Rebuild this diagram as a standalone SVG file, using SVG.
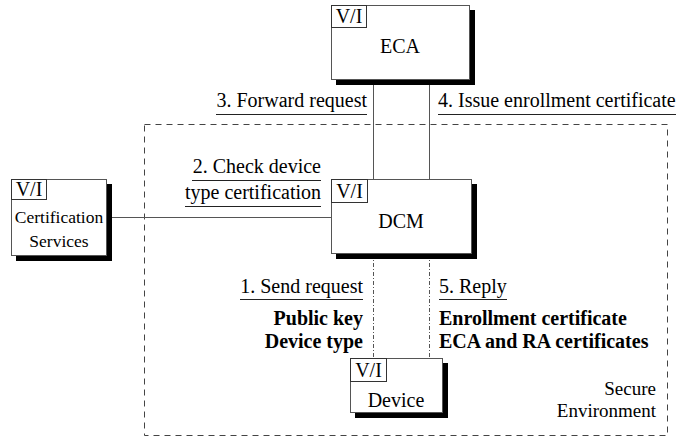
<svg xmlns="http://www.w3.org/2000/svg" width="691" height="438" viewBox="0 0 691 438" font-family="'Liberation Serif', 'DejaVu Serif', serif">
<style>
text{font-family:'Liberation Serif','DejaVu Serif',serif;fill:#000;font-size:20px}
.b{font-weight:bold}
.shadow{fill:#000}
.box{fill:#fff;stroke:#555;stroke-width:1}
.vi{fill:#fff;stroke:#333;stroke-width:1}
.conn{stroke:#555;stroke-width:1;fill:none}
.dd{stroke:#555;stroke-width:1;fill:none;stroke-dasharray:4 2 1 2}
.ul{stroke:#222;stroke-width:1}
.env{fill:none;stroke:#444;stroke-width:1;stroke-dasharray:6 5}
</style>
<rect class="env" x="144.5" y="124.5" width="523" height="311"/>
<g id="connectors">
<line class="conn" x1="373.5" y1="80" x2="373.5" y2="179"/>
<line class="conn" x1="429.5" y1="80" x2="429.5" y2="179"/>
<line class="conn" x1="107" y1="217.5" x2="331" y2="217.5"/>
<line class="dd" x1="373.5" y1="254" x2="373.5" y2="358"/>
<line class="dd" x1="429.5" y1="254" x2="429.5" y2="358"/>
</g>
<g id="labels">
<text x="367" y="107" text-anchor="end">3. Forward request</text>
<line class="ul" x1="216" y1="114.5" x2="367" y2="114.5"/>
<text x="438" y="107">4. Issue enrollment certificate</text>
<line class="ul" x1="438" y1="114.5" x2="676" y2="114.5"/>
<text x="321" y="173" text-anchor="end">2. Check device</text>
<line class="ul" x1="192" y1="180.5" x2="321" y2="180.5"/>
<text x="321" y="199" text-anchor="end">type certification</text>
<line class="ul" x1="185" y1="206.5" x2="321" y2="206.5"/>
<text x="363" y="293" text-anchor="end">1. Send request</text>
<line class="ul" x1="240" y1="299.5" x2="363" y2="299.5"/>
<text x="439" y="293">5. Reply</text>
<line class="ul" x1="439" y1="299.5" x2="507" y2="299.5"/>
<text class="b" x="363" y="325" text-anchor="end">Public key</text>
<text class="b" x="363" y="348" text-anchor="end">Device type</text>
<text class="b" x="439" y="325">Enrollment certificate</text>
<text class="b" x="439" y="348">ECA and RA certificates</text>
<text x="656" y="395" text-anchor="end" style="font-size:19px">Secure</text>
<text x="656" y="417" text-anchor="end" style="font-size:19px">Environment</text>
</g>
<g id="eca">
<rect class="shadow" x="336" y="10" width="139" height="75"/>
<rect class="box" x="331.5" y="5.5" width="138" height="74"/>
<rect class="vi" x="331.5" y="5.5" width="35" height="22"/>
<text x="349" y="23" text-anchor="middle">V/I</text>
<text x="400" y="53" text-anchor="middle">ECA</text>
</g>
<g id="cert">
<rect class="shadow" x="16" y="184" width="96" height="77"/>
<rect class="box" x="11.5" y="179.5" width="95" height="76"/>
<rect class="vi" x="11.5" y="179.5" width="35" height="20"/>
<text x="29" y="196" text-anchor="middle">V/I</text>
<text x="59" y="223" text-anchor="middle" style="font-size:17.5px">Certification</text>
<text x="59" y="247" text-anchor="middle" style="font-size:17.5px">Services</text>
</g>
<g id="dcm">
<rect class="shadow" x="336" y="184" width="141" height="75"/>
<rect class="box" x="331.5" y="179.5" width="140" height="74"/>
<rect class="vi" x="331.5" y="179.5" width="36" height="23"/>
<text x="349.5" y="198" text-anchor="middle">V/I</text>
<text x="401" y="228" text-anchor="middle">DCM</text>
</g>
<g id="device">
<rect class="shadow" x="355" y="363" width="93" height="55"/>
<rect class="box" x="350.5" y="358.5" width="92" height="54"/>
<rect class="vi" x="350.5" y="358.5" width="36" height="23"/>
<text x="368.5" y="377" text-anchor="middle">V/I</text>
<text x="396" y="407" text-anchor="middle">Device</text>
</g>
</svg>
